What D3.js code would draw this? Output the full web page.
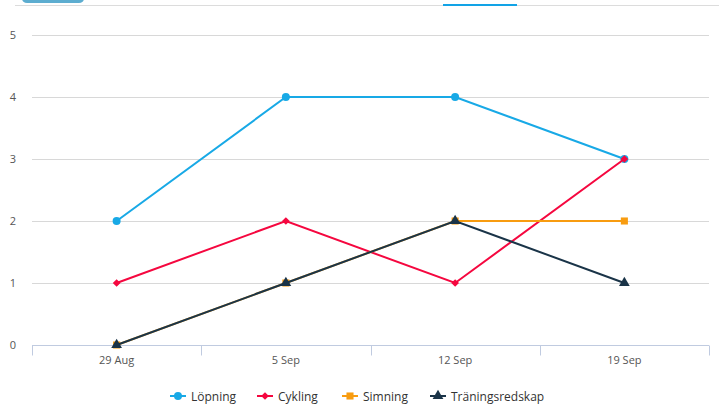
<!DOCTYPE html>
<html>
<head>
<meta charset="utf-8">
<script src="https://cdn.jsdelivr.net/npm/d3@7"></script>
<style>
  body { margin: 0; background: #fff; }
  svg { display: block; font-family: "Open Sans", "DejaVu Sans", sans-serif; }
</style>
</head>
<body>
<div id="chart"></div>
<script>
// Data
const categories = ["29 Aug", "5 Sep", "12 Sep", "19 Sep"];
const yTicks = [0, 1, 2, 3, 4, 5];
const seriesNames = ["Löpning", "Cykling", "Simning", "Träningsredskap"];
const lopning = [2, 4, 4, 3];
const cykling = [1, 2, 1, 3];
const simning = [0, 1, 2, 2];
const traning = [0, 1, 2, 1];

const colors = ["#18a9e6", "#f5073f", "#f89c10", "#1a3448"];
const symbols = [d3.symbolCircle, d3.symbolSquare, d3.symbolSquare, d3.symbolTriangle];
const symbolSizes = [50, 30, 50, 50];
const symbolRotate = [0, 45, 0, 0];

let width = 719;
let height = 412;
let margin = { top: 35, bottom: 67, left: 32, right: 10 };

let svg = d3.select("#chart")
    .append("svg")
    .attr("width", width)
    .attr("height", height);

// top tab decoration
svg.append("line")
    .attr("x1", 15).attr("x2", width)
    .attr("y1", 5.5).attr("y2", 5.5)
    .attr("stroke", "#dcdcdc").attr("stroke-width", 1);
svg.append("rect")
    .attr("x", 22).attr("y", -6)
    .attr("width", 62).attr("height", 9)
    .attr("rx", 5)
    .attr("fill", "#5dadd0");
svg.append("rect")
    .attr("x", 443).attr("y", 4)
    .attr("width", 74).attr("height", 2)
    .attr("fill", "#12a3e6");

let x = d3.scaleBand()
    .domain(categories)
    .range([margin.left, width - margin.right]);

let y = d3.scaleLinear()
    .domain([0, 5])
    .range([height - margin.bottom, margin.top]);

// grid lines
svg.append("g")
    .selectAll("line")
    .data(yTicks.filter(d => d > 0))
    .enter()
    .append("line")
    .attr("x1", margin.left)
    .attr("x2", width - margin.right)
    .attr("y1", d => Math.round(y(d)) + 0.5)
    .attr("y2", d => Math.round(y(d)) + 0.5)
    .attr("stroke", "#d8d8d8");

// y labels
svg.append("g")
    .selectAll("text")
    .data(yTicks)
    .enter()
    .append("text")
    .attr("x", 13)
    .attr("y", d => y(d) + 4)
    .attr("text-anchor", "middle")
    .attr("font-size", 11)
    .attr("fill", "#555")
    .text(d => d);

// x axis
let xAxis = svg.append("g")
    .attr("transform", "translate(0," + (Math.round(y(0)) + 0.5) + ")");
xAxis.append("line")
    .attr("x1", margin.left).attr("x2", width - margin.right)
    .attr("stroke", "#c0cbe0");
let tickPos = categories.map(c => x(c)).concat([x(categories[categories.length - 1]) + x.bandwidth()]);
xAxis.selectAll(".tick")
    .data(tickPos)
    .enter()
    .append("line")
    .attr("x1", d => Math.round(d) + 0.5)
    .attr("x2", d => Math.round(d) + 0.5)
    .attr("y1", 0).attr("y2", 10)
    .attr("stroke", "#c0cbe0");
xAxis.selectAll("text")
    .data(categories)
    .enter()
    .append("text")
    .attr("x", d => x(d) + x.bandwidth() / 2)
    .attr("y", 18)
    .attr("text-anchor", "middle")
    .attr("font-size", 11)
    .attr("fill", "#555")
    .text(d => d);

// series
const allSeries = [lopning, cykling, simning, traning];
let line = d3.line()
    .x((d, i) => x(categories[i]) + x.bandwidth() / 2)
    .y(d => y(d));

allSeries.forEach((vals, s) => {
    let g = svg.append("g");
    g.append("path")
        .datum(vals)
        .attr("fill", "none")
        .attr("stroke", colors[s])
        .attr("stroke-width", 2)
        .attr("d", line);
    g.selectAll("path.pt")
        .data(vals)
        .enter()
        .append("path")
        .attr("class", "pt")
        .attr("transform", (d, i) => "translate(" + (x(categories[i]) + x.bandwidth() / 2) + "," + y(d) + ") rotate(" + symbolRotate[s] + ")")
        .attr("d", d3.symbol().type(symbols[s]).size(symbolSizes[s]))
        .attr("fill", colors[s]);
});

// legend
let legendX = [170, 257, 342, 430];
let legend = svg.append("g").attr("transform", "translate(0,396)");
seriesNames.forEach((name, s) => {
    let lg = legend.append("g").attr("transform", "translate(" + legendX[s] + ",0)");
    lg.append("line")
        .attr("x1", 0).attr("x2", 16)
        .attr("stroke", colors[s]).attr("stroke-width", 2);
    lg.append("path")
        .attr("transform", "translate(8,0) rotate(" + symbolRotate[s] + ")")
        .attr("d", d3.symbol().type(symbols[s]).size(symbolSizes[s]))
        .attr("fill", colors[s]);
    lg.append("text")
        .attr("x", 21)
        .attr("y", 4.5)
        .attr("font-size", 12)
        .attr("fill", "#333")
        .text(name);
});
</script>
</body>
</html>
